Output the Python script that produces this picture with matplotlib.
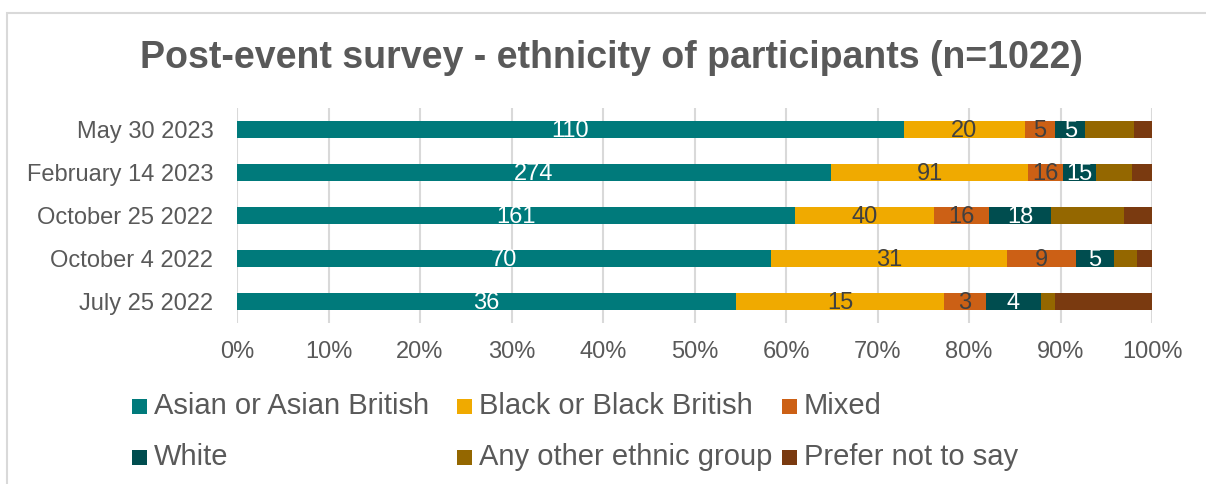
import matplotlib
matplotlib.use("Agg")
import matplotlib.pyplot as plt
from matplotlib.patches import Rectangle
from matplotlib.ticker import PercentFormatter
import numpy as np

plt.rcParams['font.family'] = ['Liberation Sans', 'DejaVu Sans']

events = ["May 30 2023", "February 14 2023", "October 25 2022", "October 4 2022", "July 25 2022"]
groups = ["Asian or Asian British", "Black or Black British", "Mixed",
          "White", "Any other ethnic group", "Prefer not to say"]
asian = [110, 274, 161, 70, 36]
black = [20, 91, 40, 31, 15]
mixed = [5, 16, 16, 9, 3]
white = [5, 15, 18, 5, 4]
other = [8, 17, 21, 3, 1]
prefer = [3, 9, 8, 2, 7]
labelled = [True, True, True, True, False, False]

colors = ["#007A7B", "#F0AA00", "#CC6015", "#004D4F", "#946700", "#7A3A10"]
label_colors = ["white", "#404040", "#404040", "white", None, None]
TEXT = "#595959"

W, H = 1206, 484
counts = np.array([asian, black, mixed, white, other, prefer], dtype=float)
totals = counts.sum(axis=0)
shares = counts / totals * 100

fig = plt.figure(figsize=(W / 100, H / 100), dpi=100)
ax = fig.add_axes([237 / W, 1 - 323 / H, 915 / W, 215 / H])

y = np.arange(len(events))
left = np.zeros(len(events))
for i, g in enumerate(groups):
    bars = ax.barh(y, shares[i], left=left, height=0.4, color=colors[i],
                   label=g, zorder=3)
    if labelled[i]:
        for j, b in enumerate(bars):
            ax.text(left[j] + shares[i][j] / 2, y[j] + 0.03, f"{int(counts[i][j])}",
                    ha="center", va="center", fontsize=17,
                    color=label_colors[i], zorder=4)
    left += shares[i]

ax.set_ylim(len(events) - 0.5, -0.5)
ax.set_xlim(0, 100)
ax.set_yticks(y)
ax.set_yticklabels(events, fontsize=17, color=TEXT)
ax.set_xticks(np.arange(0, 101, 10))
ax.xaxis.set_major_formatter(PercentFormatter(decimals=0))
ax.tick_params(axis="x", labelsize=17, labelcolor=TEXT, length=0, pad=13)
ax.tick_params(axis="y", length=0, pad=17)
ax.grid(axis="x", color="#D9D9D9", linewidth=1.5, zorder=0)
for s in ax.spines.values():
    s.set_visible(False)

fig.text(611 / W, 1 - 68 / H, "Post-event survey - ethnicity of participants (n=1022)",
         ha="center", va="baseline", fontsize=27, fontweight="bold", color=TEXT)

# legend laid out in two rows of three, filled row by row
col_x = [132, 457, 782]
row_base = [414, 465]
for k, g in enumerate(groups):
    r, c = divmod(k, 3)
    x0 = col_x[c]
    yb = row_base[r]
    fig.add_artist(Rectangle((x0 / W, 1 - yb / H), 15 / W, 15 / H,
                             transform=fig.transFigure, color=colors[k], lw=0))
    fig.text((x0 + 22) / W, 1 - yb / H, g, ha="left", va="baseline",
             fontsize=21, color=TEXT)

# outer chart frame
fig.add_artist(Rectangle((7 / W, -0.1), 1.2, 1.1 - 13 / H,
                         transform=fig.transFigure, fill=False,
                         edgecolor="#D9D9D9", linewidth=1.5))

fig.savefig("out.png", dpi=100, facecolor="white")
